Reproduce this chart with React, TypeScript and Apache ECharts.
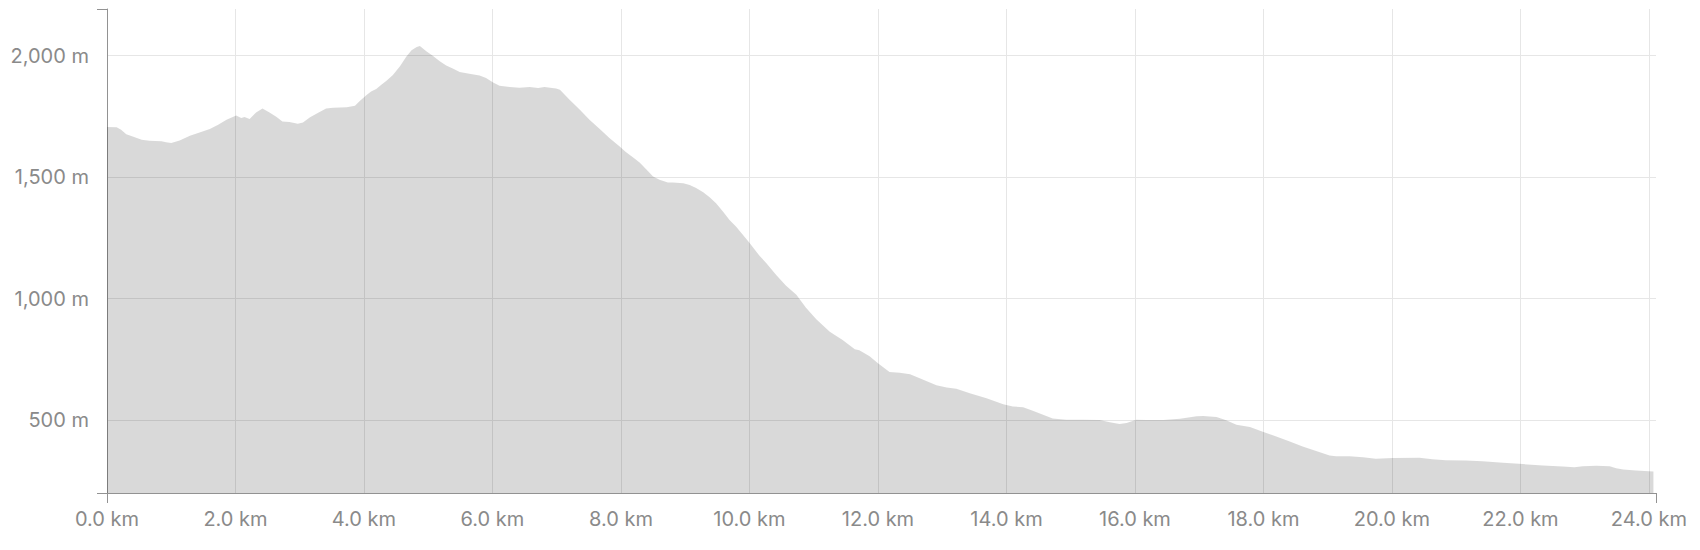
import React, { useEffect, useRef } from "react";
import * as echarts from "echarts";

// Route profile: distance (km) and elevation (m)
const distanceKm = [
  0.0, 0.15, 0.22, 0.3, 0.4, 0.54, 0.66, 0.85, 0.92, 1.0,
  1.13, 1.29, 1.44, 1.6, 1.73, 1.86, 2.01, 2.09, 2.14, 2.22,
  2.32, 2.42, 2.53, 2.64, 2.73, 2.84, 2.97, 3.05, 3.16, 3.28,
  3.41, 3.52, 3.73, 3.86, 3.93, 4.04, 4.11, 4.19, 4.27, 4.35,
  4.45, 4.56, 4.66, 4.74, 4.82, 4.87, 4.97, 5.07, 5.18, 5.28,
  5.39, 5.49, 5.64, 5.8, 5.9, 6.01, 6.11, 6.27, 6.42, 6.58,
  6.71, 6.81, 6.99, 7.05, 7.2, 7.36, 7.51, 7.67, 7.82, 7.98,
  8.08, 8.19, 8.29, 8.4, 8.5, 8.6, 8.73, 8.81, 8.97, 9.07,
  9.17, 9.28, 9.38, 9.48, 9.59, 9.69, 9.79, 9.99, 10.16, 10.26,
  10.42, 10.57, 10.73, 10.88, 11.04, 11.25, 11.45, 11.64, 11.71, 11.87,
  12.0, 12.18, 12.34, 12.5, 12.65, 12.91, 13.07, 13.22, 13.43, 13.69,
  13.95, 14.1, 14.26, 14.41, 14.62, 14.72, 14.93, 15.19, 15.45, 15.61,
  15.76, 15.87, 16.02, 16.18, 16.44, 16.7, 16.96, 17.06, 17.27, 17.42,
  17.58, 17.79, 17.99, 18.2, 18.41, 18.61, 18.82, 19.03, 19.13, 19.34,
  19.55, 19.75, 20.01, 20.43, 20.63, 20.84, 21.15, 21.41, 21.73, 22.04,
  22.35, 22.66, 22.84, 22.97, 23.18, 23.39, 23.49, 23.6, 23.8, 24.07,
];

const elevationM = [
  1706, 1705, 1695, 1677, 1667, 1654, 1650, 1648, 1644, 1641,
  1651, 1670, 1684, 1698, 1716, 1736, 1754, 1743, 1747, 1739,
  1766, 1783, 1766, 1747, 1729, 1727, 1720, 1725, 1746, 1764,
  1782, 1786, 1788, 1794, 1812, 1838, 1852, 1863, 1880, 1897,
  1920, 1956, 1997, 2022, 2036, 2040, 2018, 2000, 1977, 1959,
  1946, 1933, 1926, 1918, 1908, 1890, 1876, 1871, 1868, 1871,
  1867, 1871, 1865, 1860, 1819, 1777, 1736, 1698, 1661, 1626,
  1602, 1581, 1560, 1530, 1503, 1489, 1478, 1478, 1475, 1468,
  1455, 1438, 1417, 1393, 1358, 1324, 1297, 1233, 1175, 1147,
  1096, 1053, 1016, 962, 915, 864, 830, 792, 788, 763,
  734, 698, 695, 689, 672, 643, 634, 629, 611, 590,
  565, 556, 553, 539, 517, 507, 501, 501, 500, 491,
  484, 488, 501, 500, 500, 506, 516, 517, 513, 499,
  481, 472, 452, 433, 412, 391, 373, 354, 351, 351,
  347, 341, 344, 345, 339, 335, 334, 331, 325, 319,
  313, 309, 306, 310, 312, 310, 302, 297, 293, 289,
];

// Axis ranges and tick steps
const X_MIN_KM = 0;
const X_MAX_KM = 24.11;
const X_STEP_KM = 2;
const Y_MIN_M = 200;
const Y_MAX_M = 2192;
const Y_STEP_M = 500;

const LABEL_COLOR = "#8a8a8a";
const AXIS_COLOR = "#929292";
const GRID_COLOR = "#e6e6e6";
const FONT = "Inter";

export default function App() {
  const ref = useRef<HTMLDivElement | null>(null);

  useEffect(() => {
    document.body.style.margin = "0";
    if (!ref.current) return;
    const chart = echarts.init(ref.current, undefined, { renderer: "svg" });

    const isStep = (v: number, step: number) =>
      Math.abs(v / step - Math.round(v / step)) < 1e-6;

    const option = {
      animation: false,
      backgroundColor: "#ffffff",
      grid: { left: 107, right: 44, top: 9, bottom: 57, containLabel: false },
      xAxis: [
        {
          type: "value",
          min: X_MIN_KM,
          max: X_MAX_KM,
          interval: X_STEP_KM,
          position: "bottom",
          axisLine: { show: false },
          axisTick: { show: false },
          axisLabel: {
            show: true,
            showMinLabel: true,
            showMaxLabel: false,
            margin: 16,
            color: LABEL_COLOR,
            fontFamily: FONT,
            fontSize: 20,
            lineHeight: 20,
            formatter: (v: number) =>
              isStep(v, X_STEP_KM) ? `${v.toFixed(1)} km` : "",
          },
          splitLine: {
            show: true,
            showMinLine: false,
            showMaxLine: false,
            lineStyle: { color: GRID_COLOR, width: 1 },
          },
        },
        {
          type: "value",
          min: X_MIN_KM,
          max: X_MAX_KM,
          interval: X_MAX_KM - X_MIN_KM,
          position: "bottom",
          axisLine: { show: true, lineStyle: { color: AXIS_COLOR, width: 1 } },
          axisTick: { show: true, length: 10, lineStyle: { color: AXIS_COLOR, width: 1 } },
          axisLabel: { show: false },
          splitLine: { show: false },
        },
      ],
      yAxis: [
        {
          type: "value",
          min: Y_MIN_M,
          max: Y_MAX_M,
          minInterval: Y_STEP_M,
          maxInterval: Y_STEP_M,
          position: "left",
          axisLine: { show: false },
          axisTick: { show: false },
          axisLabel: {
            show: true,
            showMinLabel: false,
            showMaxLabel: false,
            margin: 18,
            color: LABEL_COLOR,
            fontFamily: FONT,
            fontSize: 20,
            formatter: (v: number) =>
              isStep(v, Y_STEP_M) ? `${v.toLocaleString("en-US")} m` : "",
          },
          splitLine: {
            show: true,
            showMinLine: false,
            showMaxLine: false,
            lineStyle: { color: GRID_COLOR, width: 1 },
          },
        },
        {
          type: "value",
          min: Y_MIN_M,
          max: Y_MAX_M,
          interval: Y_MAX_M - Y_MIN_M,
          position: "left",
          axisLine: { show: true, lineStyle: { color: AXIS_COLOR, width: 1 } },
          axisTick: { show: true, length: 10, lineStyle: { color: AXIS_COLOR, width: 1 } },
          axisLabel: { show: false },
          splitLine: { show: false },
        },
      ],
      series: [
        {
          type: "line",
          xAxisIndex: 0,
          yAxisIndex: 0,
          data: distanceKm.map((d, i) => [d, elevationM[i]]),
          showSymbol: false,
          symbol: "none",
          smooth: false,
          lineStyle: { width: 0, opacity: 0 },
          areaStyle: { color: "rgba(0,0,0,0.15)", origin: "start", opacity: 1 },
          z: 2,
        },
      ],
    };

    chart.setOption(option as any);
    return () => {
      chart.dispose();
    };
  }, []);

  return <div ref={ref} style={{ width: 1700, height: 550 }} />;
}
